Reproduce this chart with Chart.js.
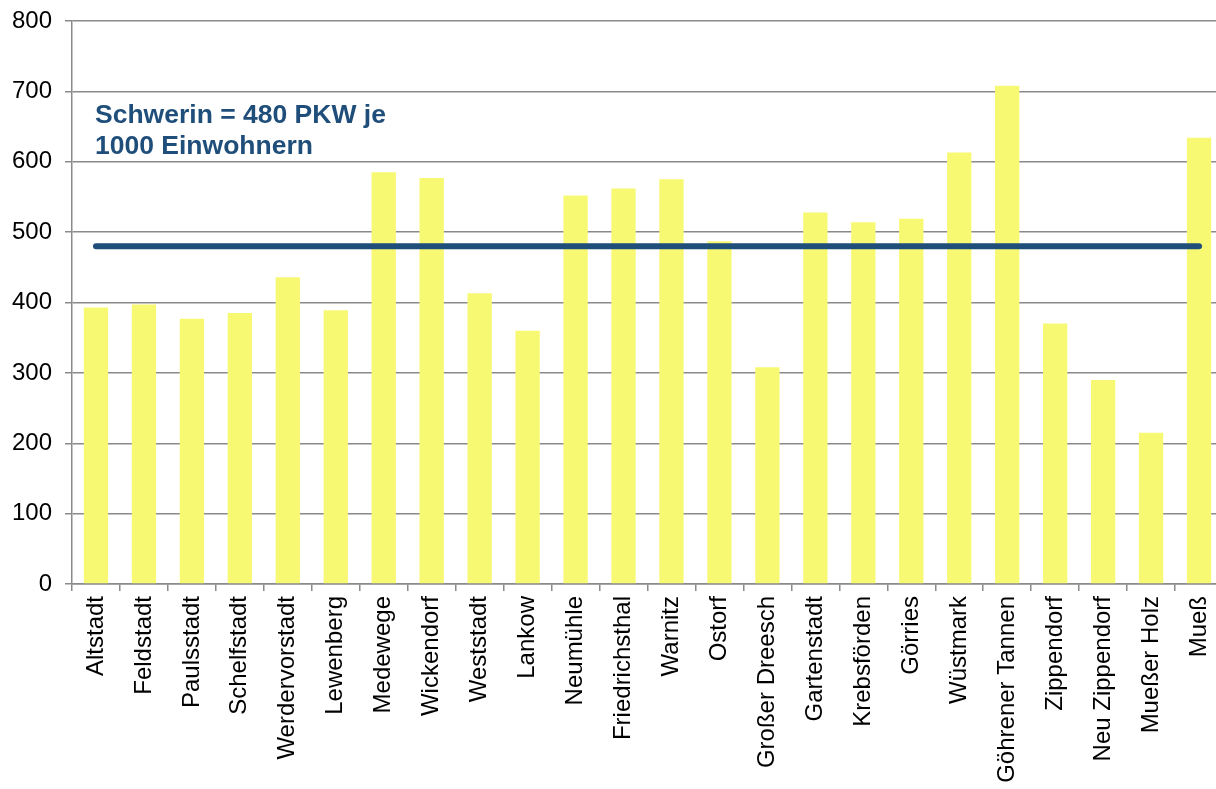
<!DOCTYPE html>
<html>
<head>
<meta charset="utf-8">
<script src="https://cdn.jsdelivr.net/npm/chart.js@4.4.0/dist/chart.umd.min.js"></script>
<style>
  html, body { margin: 0; padding: 0; background: #fff; overflow: hidden; }
  canvas { display: block; }
</style>
</head>
<body>
<canvas id="pkwChart" width="1223" height="789"></canvas>
<script>
// Stadtteile
const districts = ['Altstadt', 'Feldstadt', 'Paulsstadt', 'Schelfstadt', 'Werdervorstadt', 'Lewenberg',
  'Medewege', 'Wickendorf', 'Weststadt', 'Lankow', 'Neumühle', 'Friedrichsthal', 'Warnitz', 'Ostorf',
  'Großer Dreesch', 'Gartenstadt', 'Krebsförden', 'Görries', 'Wüstmark', 'Göhrener Tannen',
  'Zippendorf', 'Neu Zippendorf', 'Mueßer Holz', 'Mueß'];
// PKW je 1000 Einwohner
const pkwPer1000 = [393, 397, 377, 385, 436, 389, 585, 577, 413, 360, 552, 562, 575, 487,
  308, 528, 514, 519, 613, 708, 370, 290, 215, 634];
// Schwerin gesamt
const schwerinAvg = [480, 480, 480, 480, 480, 480, 480, 480, 480, 480, 480, 480,
  480, 480, 480, 480, 480, 480, 480, 480, 480, 480, 480, 480];
const yTicks = [0, 100, 200, 300, 400, 500, 600, 700, 800];
const noteLines = ['Schwerin = 480 PKW je', '1000 Einwohnern'];

const blue = '#1F4E7A';
const gridGray = '#8a8a8a';
const font = '"Liberation Sans", Arial, sans-serif';

const notePlugin = {
  id: 'note',
  afterDatasetsDraw(chart) {
    const ctx = chart.ctx;
    ctx.save();
    ctx.fillStyle = blue;
    ctx.font = 'bold 26.5px ' + font;
    ctx.textAlign = 'left';
    ctx.textBaseline = 'alphabetic';
    ctx.fillText(noteLines[0], 95, 123);
    ctx.fillText(noteLines[1], 95, 154);
    ctx.restore();
  }
};

const ctx = document.getElementById('pkwChart').getContext('2d');
new Chart(ctx, {
  data: {
    labels: districts,
    datasets: [
      { type: 'line', data: schwerinAvg, borderColor: blue, borderWidth: 6, borderCapStyle: 'round',
        pointRadius: 0, fill: false, order: 0 },
      { type: 'bar', data: pkwPer1000, backgroundColor: '#F7F972', borderWidth: 0,
        categoryPercentage: 1, barPercentage: 0.507, order: 1 }
    ]
  },
  options: {
    responsive: false,
    animation: false,
    layout: { padding: { top: 21, right: 0, left: 0, bottom: 0 } },
    plugins: { legend: { display: false }, tooltip: { enabled: false } },
    scales: {
      x: {
        offset: true,
        grid: { display: true, offset: true, drawOnChartArea: false, drawTicks: true, tickLength: 7, color: gridGray, lineWidth: 1.5 },
        border: { display: true, color: gridGray, width: 1.5 },
        ticks: { color: '#000', font: { family: font, size: 24 },
          minRotation: 90, maxRotation: 90, autoSkip: false, padding: 5 },
        afterFit(scale) {
          scale.height = 789 - 584;
          scale.paddingLeft = 0;
          scale.paddingRight = 0;
        }
      },
      y: {
        min: 0, max: 800,
        afterBuildTicks(scale) { scale.ticks = yTicks.map(v => ({ value: v })); },
        grid: { color: gridGray, lineWidth: 1.5, tickLength: 7, drawTicks: true },
        border: { display: true, color: gridGray, width: 1.5 },
        ticks: { color: '#000', font: { family: font, size: 24 }, padding: 13 },
        afterFit(scale) {
          scale.width = 72;
          scale.paddingTop = 0;
          scale.paddingBottom = 0;
        }
      }
    }
  },
  plugins: [notePlugin]
});
</script>
</body>
</html>
